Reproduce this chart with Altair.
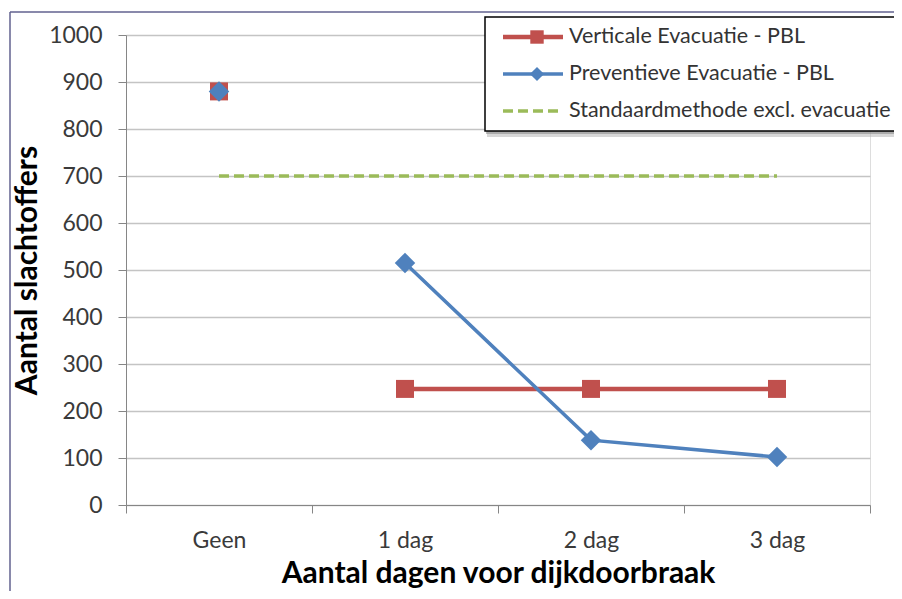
import altair as alt
import pandas as pd

categories = ["Geen", "1 dag", "2 dag", "3 dag"]
vertical = [880, 247, 247, 247]
preventief = [880, 515, 138, 102]
standaard = [700, 700, 700, 700]
series_names = ["Verticale Evacuatie - PBL", "Preventieve Evacuatie - PBL",
                "Standaardmethode excl. evacuatie"]
y_ticks = list(range(0, 1001, 100))

RED = "#C0504D"
BLUE = "#4F81BD"
GREEN = "#9BBB59"
FONT = "Lato"
LABEL = "#3a3a3a"

rows = []
for i, c in enumerate(categories):
    rows.append({"cat": c, "series": series_names[0], "value": vertical[i]})
    rows.append({"cat": c, "series": series_names[1], "value": preventief[i]})
    rows.append({"cat": c, "series": series_names[2], "value": standaard[i]})
df = pd.DataFrame(rows)
one = pd.DataFrame({"k": [0]})

xenc = alt.X("cat:N", sort=categories,
             scale=alt.Scale(type="band", paddingInner=0, paddingOuter=0),
             axis=alt.Axis(title="Aantal dagen voor dijkdoorbraak", labelAngle=0,
                           grid=False, tickBand="extent", domainColor="#868686",
                           tickColor="#868686", tickSize=8, labelPadding=16,
                           titlePadding=6, labelFontSize=23, titleFontSize=30,
                           titleFontWeight="bold", labelColor=LABEL,
                           titleColor="#000000", labelFont=FONT, titleFont=FONT))
yenc = alt.Y("value:Q", scale=alt.Scale(domain=[0, 1000], nice=False),
             axis=alt.Axis(title="Aantal slachtoffers", values=y_ticks, format="d",
                           gridColor="#C4C4C4", gridWidth=1.5, domainColor="#868686",
                           tickColor="#868686", tickSize=8, labelPadding=16,
                           titlePadding=6, labelFontSize=23, titleFontSize=30,
                           titleFontWeight="bold", labelColor=LABEL,
                           titleColor="#000000", labelFont=FONT, titleFont=FONT))

base = alt.Chart(df).encode(x=xenc, y=yenc)

green_line = base.transform_filter(alt.datum.series == series_names[2]).mark_line(
    color=GREEN, strokeWidth=3.5, strokeDash=[10, 5])
red_line = base.transform_filter(
    (alt.datum.series == series_names[0]) & (alt.datum.cat != "Geen")
).mark_line(color=RED, strokeWidth=4.5)
blue_line = base.transform_filter(
    (alt.datum.series == series_names[1]) & (alt.datum.cat != "Geen")
).mark_line(color=BLUE, strokeWidth=3.5)
red_pts = base.transform_filter(alt.datum.series == series_names[0]).mark_point(
    shape="square", filled=True, opacity=1, size=324, color=RED)
blue_pts = base.transform_filter(alt.datum.series == series_names[1]).mark_point(
    shape="diamond", filled=True, opacity=1, size=420, color=BLUE)

# decorative frame
frame_l = alt.Chart(one).mark_rule(color="#62628F", strokeWidth=1.5).encode(
    x=alt.value(-116), y=alt.value(-23), y2=alt.value(600))
frame_t = alt.Chart(one).mark_rule(color="#62628F", strokeWidth=1.5).encode(
    x=alt.value(-116), x2=alt.value(800), y=alt.value(-23))

# legend (manual)
lx0, lx1 = 359, 800
ly0, ly1 = -18, 96
shadow1 = alt.Chart(one).mark_rect(color="#b0b0b0", opacity=0.5).encode(
    x=alt.value(lx0 + 2), x2=alt.value(lx1 + 2), y=alt.value(ly0 + 3), y2=alt.value(ly1 + 6))
shadow2 = alt.Chart(one).mark_rect(color="#808080", opacity=0.5).encode(
    x=alt.value(lx0 + 1), x2=alt.value(lx1 + 1), y=alt.value(ly0 + 2), y2=alt.value(ly1 + 3))
box = alt.Chart(one).mark_rect(fill="white", stroke="#000000", strokeWidth=1.5).encode(
    x=alt.value(lx0), x2=alt.value(lx1), y=alt.value(ly0), y2=alt.value(ly1))
leg_y = [2, 39, 76]
sx0, sx1, sxm, tx = 377, 437, 411, 443
leg = []
leg.append(alt.Chart(one).mark_rule(color=RED, strokeWidth=4.5).encode(
    x=alt.value(sx0), x2=alt.value(sx1), y=alt.value(leg_y[0])))
leg.append(alt.Chart(one).mark_point(shape="square", filled=True, opacity=1, size=180,
                                     color=RED).encode(x=alt.value(sxm), y=alt.value(leg_y[0])))
leg.append(alt.Chart(one).mark_rule(color=BLUE, strokeWidth=3.5).encode(
    x=alt.value(sx0), x2=alt.value(sx1), y=alt.value(leg_y[1])))
leg.append(alt.Chart(one).mark_point(shape="diamond", filled=True, opacity=1, size=200,
                                     color=BLUE).encode(x=alt.value(sxm), y=alt.value(leg_y[1])))
leg.append(alt.Chart(one).mark_rule(color=GREEN, strokeWidth=3.5, strokeDash=[10, 5]).encode(
    x=alt.value(sx0), x2=alt.value(sx1), y=alt.value(leg_y[2])))
for i, name in enumerate(series_names):
    leg.append(alt.Chart(one).mark_text(align="left", baseline="middle", font=FONT,
                                        fontSize=21.5, fontWeight="normal",
                                        color="#333333", text=name).encode(
        x=alt.value(tx), y=alt.value(leg_y[i])))

chart = alt.layer(green_line, red_line, blue_line, red_pts, blue_pts,
                  frame_l, frame_t, shadow1, shadow2, box, *leg).properties(
    width=744, height=470,
    padding={"left": 118, "top": 27, "right": 24, "bottom": 86},
    autosize=alt.AutoSizeParams(type="none"),
).configure_view(stroke=None).configure(background="white")

chart.save("out.html", embed_options={"renderer": "svg", "actions": False})
